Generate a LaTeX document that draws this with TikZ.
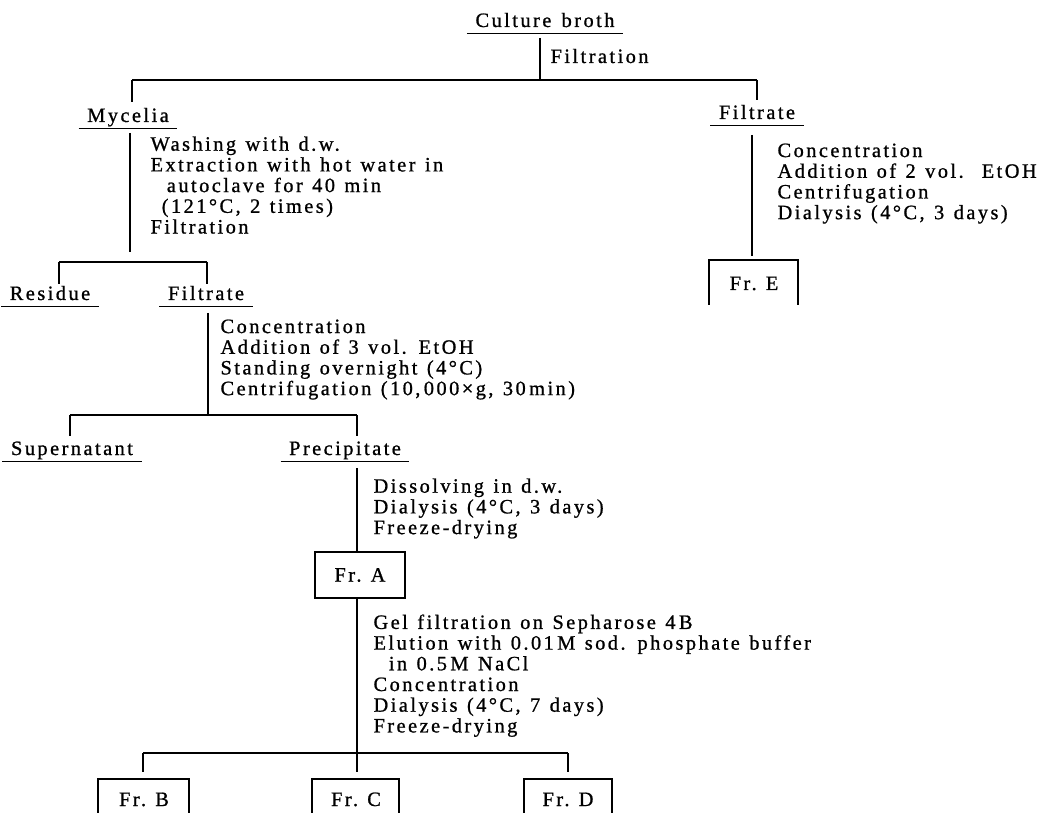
\documentclass[tikz,border=0pt]{standalone}
\usepackage{fontspec}
\setmainfont{Liberation Serif}[LetterSpace=12,FakeBold=0.9,WordSpace=1.25]
\begin{document}
\begin{tikzpicture}[x=1pt,y=-1pt,line width=1.1pt,
  every node/.style={font=\fontsize{20.4}{20.7}\selectfont},
  lab/.style={inner xsep=8pt,inner ysep=0pt,anchor=base},
  steps/.style={inner sep=0pt,anchor=north west,align=left},
  one/.style={inner sep=0pt,anchor=base west},
  frbox/.style={inner sep=0pt,anchor=base}]
\useasboundingbox (0,0) rectangle (1045,813);
\newcommand{\ul}[1]{\draw ([yshift=-6.5pt]#1.base west) -- ([yshift=-6.5pt]#1.base east);}
\newcommand{\fr}[1]{Fr.\hspace{0.45em}#1}
% ---- top
\node[lab] (cb) at (545,27) {Culture\hspace{0.5em}broth};
\ul{cb}
\node[one] (f0) at (550,63) {Filtration};
\coordinate (c0) at (540,38);
\coordinate (b0) at (540,80);
\coordinate (b0l) at (132,80);
\coordinate (b0r) at (757,80);
\draw (c0) -- (b0);
\draw (b0l) -- (b0r);
% ---- mycelia / filtrate
\node[lab] (my) at (128,122) {Mycelia};
\ul{my}
\node[lab] (fr1) at (757,119) {Filtrate};
\ul{fr1}
\draw (b0l) -- (132,102);
\draw (b0r) -- (757,100);
% ---- mycelia branch
\coordinate (m0) at (130,133);
\coordinate (m1) at (130,252);
\draw (m0) -- (m1);
\node[steps] (ms) at (150,136) {Washing with d.w.\\Extraction with hot water in\\\hspace*{0.8em}autoclave for 40 min\\\hspace*{0.55em}(121°C, 2 times)\\Filtration};
\coordinate (b1l) at (59,262);
\coordinate (b1r) at (207,262);
\draw (b1l) -- (b1r);
\draw (b1l) -- (59,284);
\draw (b1r) -- (207,284);
\node[lab] (res) at (50,300) {Residue};
\ul{res}
\node[lab] (fr2) at (206,300) {Filtrate};
\ul{fr2}
% ---- filtrate branch
\coordinate (p0) at (208,313);
\coordinate (p1) at (208,415);
\draw (p0) -- (p1);
\node[steps] (ps) at (220,319) {Concentration\\Addition of 3 vol. EtOH\\Standing overnight (4°C)\\Centrifugation (10,\,000×g, 30\,min)};
\coordinate (b2l) at (70,415);
\coordinate (b2r) at (357,415);
\draw (b2l) -- (b2r);
\draw (b2l) -- (70,436);
\draw (b2r) -- (357,436);
\node[lab] (sup) at (72,455) {Supernatant};
\ul{sup}
\node[lab] (pre) at (345,455) {Precipitate};
\ul{pre}
% ---- precipitate branch
\node[draw,minimum width=90pt,minimum height=46pt,inner sep=0pt] (fa) at (360,575) {\fr{A}};
\draw (357,468) -- (357,552);
\node[steps] (qs) at (373,478) {Dissolving in d.w.\\Dialysis (4°C, 3 days)\\Freeze-drying};
\coordinate (a1) at (357,753);
\draw (357,598) -- (a1);
\node[steps] (gs) at (373,614) {Gel filtration on Sepharose 4\,B\\Elution with 0.01\,M sod. phosphate buffer\\\hspace*{0.75em}in 0.5\,M NaCl\\Concentration\\Dialysis (4°C, 7 days)\\Freeze-drying};
\coordinate (b3l) at (143,753);
\coordinate (b3r) at (568,753);
\draw (b3l) -- (b3r);
\draw (b3l) -- (143,772);
\draw (a1) -- (357,772);
\draw (b3r) -- (568,772);
% ---- Fr. B, C, D
\node[frbox] (fb) at (144,806) {\fr{B}};
\node[frbox] (fc) at (356,806) {\fr{C}};
\node[frbox] (fd) at (568,806) {\fr{D}};
\draw (98,813) -- (98,779) -- (189,779) -- (189,813);
\draw (312,813) -- (312,779) -- (399,779) -- (399,813);
\draw (524,813) -- (524,779) -- (612,779) -- (612,813);
% ---- right filtrate branch
\draw (752,135) -- (752,256);
\node[steps] (rs) at (777,143) {Concentration\\Addition of 2 vol.\hspace{0.3em} EtOH\\Centrifugation\\Dialysis (4°C, 3 days)};
\node[frbox] (fe) at (754,290) {\fr{E}};
\draw (709,305) -- (709,260) -- (798,260) -- (798,305);
\end{tikzpicture}
\end{document}
